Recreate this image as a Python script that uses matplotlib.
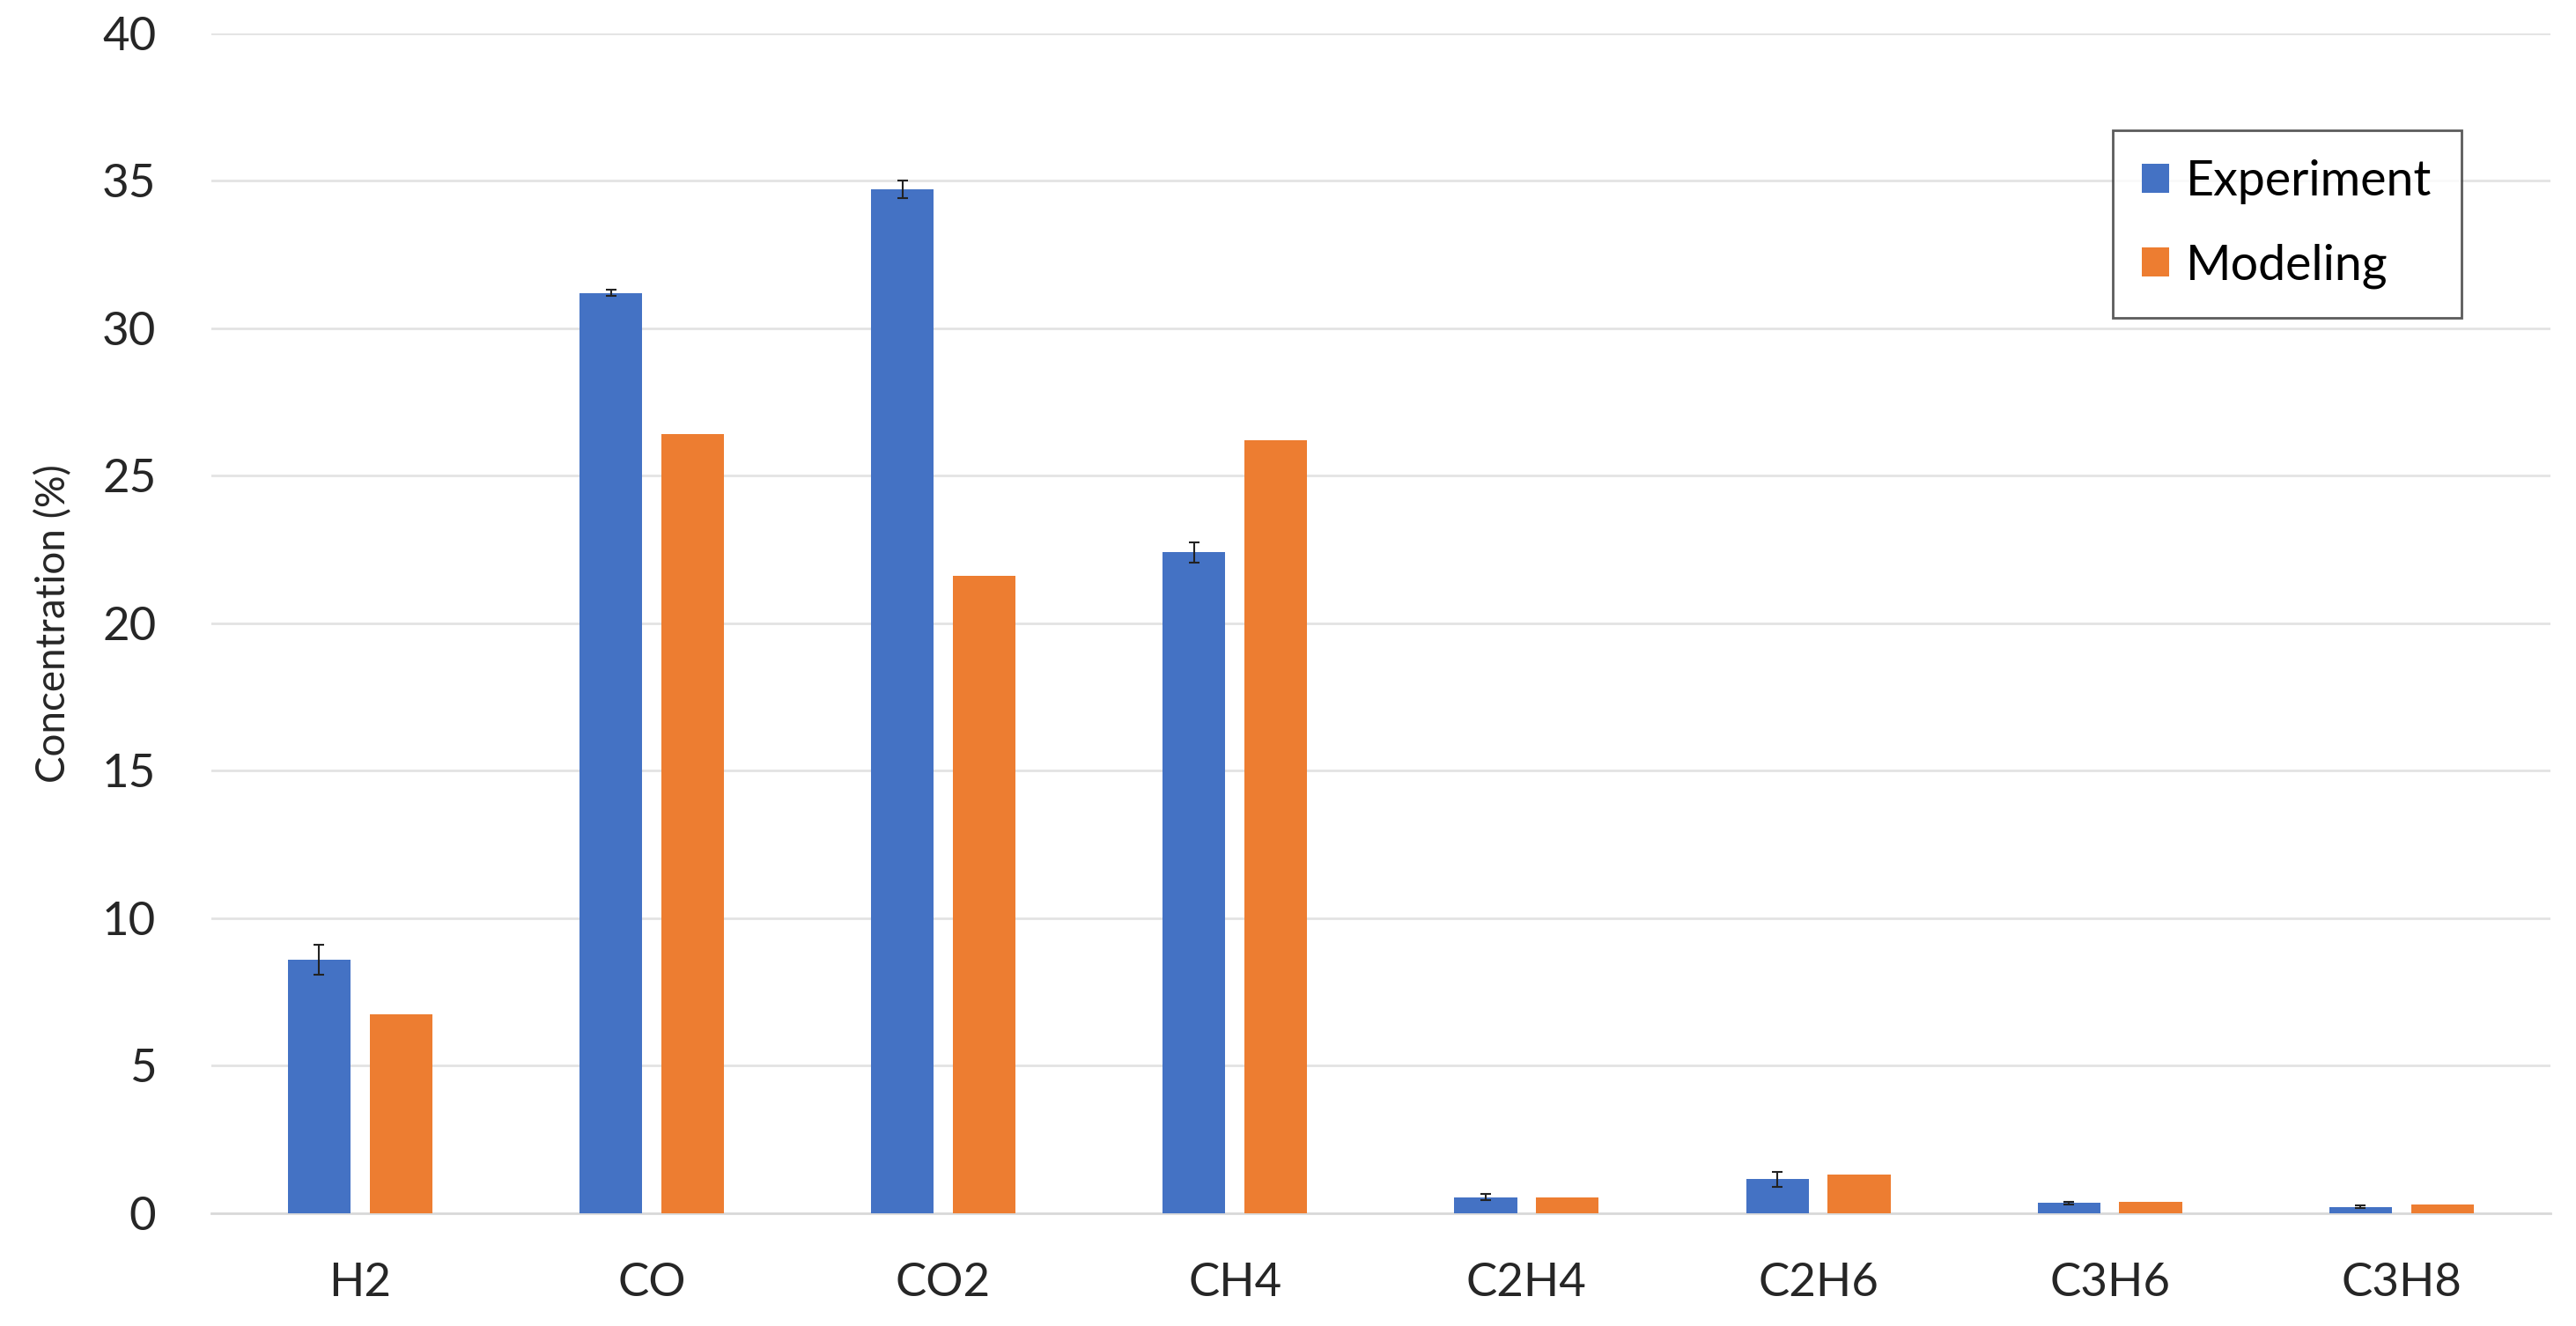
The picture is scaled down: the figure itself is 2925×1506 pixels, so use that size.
import matplotlib
matplotlib.use('Agg')
import matplotlib.pyplot as plt
import numpy as np

# Gas species and measured / modelled concentrations (%)
species = ['H2', 'CO', 'CO2', 'CH4', 'C2H4', 'C2H6', 'C3H6', 'C3H8']
experiment = [8.6, 31.2, 34.7, 22.4, 0.55, 1.15, 0.35, 0.22]
experiment_err = [0.5, 0.1, 0.3, 0.35, 0.1, 0.25, 0.05, 0.05]
modeling = [6.75, 26.4, 21.6, 26.2, 0.55, 1.3, 0.4, 0.3]

plt.rcParams['font.family'] = ['Lato', 'DejaVu Sans']

fig, ax = plt.subplots(figsize=(29.25, 15.06), dpi=100)
fig.subplots_adjust(left=0.082, right=0.99, bottom=0.085, top=0.975)

x = np.arange(len(species))
width = 0.215
offset = 0.14

ax.bar(x - offset, experiment, width, color='#4472C4', label='Experiment', zorder=3)
ax.errorbar(x - offset, experiment, yerr=experiment_err, fmt='none',
            ecolor='#222222', elinewidth=1.5, capsize=4, capthick=1.5, zorder=4)
ax.bar(x + offset, modeling, width, color='#ED7D31', label='Modeling', zorder=3)

ax.set_xlim(-0.51, len(species) - 0.49)
ax.set_ylim(0, 40)
ax.set_yticks(range(0, 41, 5))
ax.set_xticks(x)
ax.set_xticklabels(species)
ax.tick_params(axis='both', length=0, labelsize=38, colors='#262626')
ax.tick_params(axis='x', pad=40)
ax.tick_params(axis='y', pad=45)
ax.set_ylabel('Concentration (%)', fontsize=33, color='#262626', labelpad=24)

ax.yaxis.grid(True, color='#E3E3E3', linewidth=2, zorder=0)
for side in ['top', 'right', 'left']:
    ax.spines[side].set_visible(False)
ax.spines['bottom'].set_color('#D9D9D9')
ax.spines['bottom'].set_linewidth(2)

leg = ax.legend(loc='upper right', bbox_to_anchor=(0.962, 0.918), fontsize=40,
                frameon=True, fancybox=False, edgecolor='#333333',
                handlelength=0.55, handleheight=0.55, handletextpad=0.35,
                borderpad=0.6, labelspacing=0.8, borderaxespad=0)
leg.get_frame().set_linewidth(2)

plt.savefig('out.png', dpi=100)
plt.close()
